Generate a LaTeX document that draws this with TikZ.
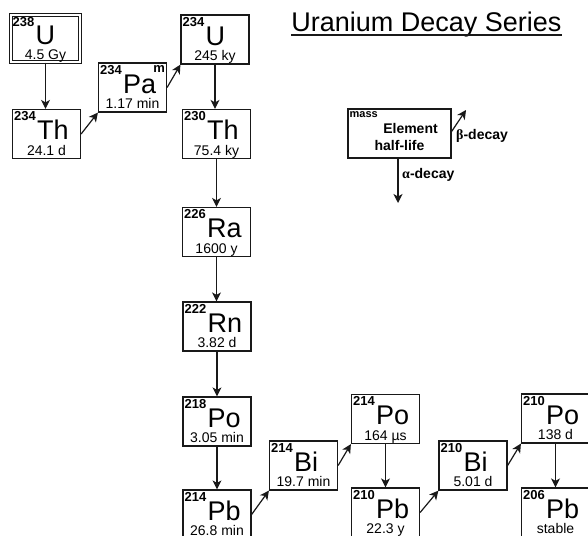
\documentclass[tikz,border=0pt]{standalone}
\usepackage{fontspec}
\setmainfont{Liberation Sans}
\newfontfamily\greekfont{Liberation Serif}
\usetikzlibrary{arrows.meta}
\definecolor{figline}{RGB}{25,25,25}
\tikzset{
  nuc/.style    ={draw=figline, line width=1.2pt, minimum width=68pt, minimum height=49pt, inner sep=0pt},
  massno/.style ={font=\fontsize{13}{13}\selectfont\bfseries, inner sep=0.5pt, anchor=north west, xshift=1.5pt, yshift=-2pt},
  elem/.style   ={font=\fontsize{27}{27}\selectfont, inner sep=0.5pt, anchor=base west, yshift=-19pt},
  hlife/.style  ={font=\fontsize{14}{15}\selectfont, inner sep=0pt, anchor=base, yshift=4pt},
  keytxt/.style ={font=\fontsize{14}{14}\selectfont\bfseries, inner sep=0pt},
  adecay/.style ={draw=figline, line width=1.2pt, -{Stealth[length=9pt,width=9pt,inset=2.5pt]}},
  bdecay/.style ={draw=figline, line width=1.2pt, -{Stealth[length=9pt,width=9pt,inset=2.5pt]}},
}

\begin{document}
\begin{tikzpicture}[x=1pt,y=-1pt]
  \useasboundingbox (0,0) rectangle (588,535);
  \clip (0,0) rectangle (588,535);
  % title
  \node[anchor=base, inner sep=0pt, font=\fontsize{27}{29}\selectfont] (title) at (426.5,32) {Uranium Decay Series};
  \draw[figline, line width=1.2pt] ([yshift=-3pt]title.base west) -- ([yshift=-3pt]title.base east);
  % top chain
  \node[nuc, double, double distance=1.5pt, minimum width=69pt, minimum height=47pt] (u238) at (45.5,38.5) {};
  \node[massno] (u238m) at (u238.north west) {238};
  \node[elem, yshift=1pt] (u238e) at (u238m.base east) {U};
  \node[hlife, yshift=-0.5pt] (u238h) at (u238.south) {4.5 Gy};
  \node[nuc] (th234) at (46.5,134) {};
  \node[massno] (th234m) at (th234.north west) {234};
  \node[elem] (th234e) at (th234m.base east) {Th};
  \node[hlife] (th234h) at (th234.south) {24.1 d};
  \node[nuc] (pa234) at (132.5,87.5) {};
  \node[massno] (pa234m) at (pa234.north west) {234};
  \node[elem] (pa234e) at (pa234m.base east) {Pa};
  \node[massno, anchor=north east, xshift=-3pt] (pa234x) at (pa234.north east) {m};
  \node[hlife] (pa234h) at (pa234.south) {1.17 min};
  \node[nuc] (u234) at (215,39.5) {};
  \node[massno] (u234m) at (u234.north west) {234};
  \node[elem] (u234e) at (u234m.base east) {U};
  \node[hlife] (u234h) at (u234.south) {245 ky};
  % middle column
  \node[nuc] (th230) at (216.5,134) {};
  \node[massno] (th230m) at (th230.north west) {230};
  \node[elem] (th230e) at (th230m.base east) {Th};
  \node[hlife] (th230h) at (th230.south) {75.4 ky};
  \node[nuc] (ra226) at (216.5,232) {};
  \node[massno] (ra226m) at (ra226.north west) {226};
  \node[elem] (ra226e) at (ra226m.base east) {Ra};
  \node[hlife] (ra226h) at (ra226.south) {1600 y};
  \node[nuc] (rn222) at (217,326.5) {};
  \node[massno] (rn222m) at (rn222.north west) {222};
  \node[elem] (rn222e) at (rn222m.base east) {Rn};
  \node[hlife] (rn222h) at (rn222.south) {3.82 d};
  \node[nuc] (po218) at (217,421.5) {};
  \node[massno] (po218m) at (po218.north west) {218};
  \node[elem] (po218e) at (po218m.base east) {Po};
  \node[hlife] (po218h) at (po218.south) {3.05 min};
  % bottom chain
  \node[nuc] (pb214) at (217,514.5) {};
  \node[massno] (pb214m) at (pb214.north west) {214};
  \node[elem] (pb214e) at (pb214m.base east) {Pb};
  \node[hlife] (pb214h) at (pb214.south) {26.8 min};
  \node[nuc] (bi214) at (303.5,465.5) {};
  \node[massno] (bi214m) at (bi214.north west) {214};
  \node[elem] (bi214e) at (bi214m.base east) {Bi};
  \node[hlife] (bi214h) at (bi214.south) {19.7 min};
  \node[nuc] (po214) at (385.5,419) {};
  \node[massno] (po214m) at (po214.north west) {214};
  \node[elem] (po214e) at (po214m.base east) {Po};
  \node[hlife] (po214h) at (po214.south) {164 µs};
  \node[nuc] (pb210) at (385.5,512.5) {};
  \node[massno] (pb210m) at (pb210.north west) {210};
  \node[elem] (pb210e) at (pb210m.base east) {Pb};
  \node[hlife] (pb210h) at (pb210.south) {22.3 y};
  \node[nuc] (bi210) at (473,465.5) {};
  \node[massno] (bi210m) at (bi210.north west) {210};
  \node[elem] (bi210e) at (bi210m.base east) {Bi};
  \node[hlife] (bi210h) at (bi210.south) {5.01 d};
  \node[nuc] (po210) at (555.5,418.5) {};
  \node[massno] (po210m) at (po210.north west) {210};
  \node[elem] (po210e) at (po210m.base east) {Po};
  \node[hlife] (po210h) at (po210.south) {138 d};
  \node[nuc] (pb206) at (555.5,512.5) {};
  \node[massno] (pb206m) at (pb206.north west) {206};
  \node[elem] (pb206e) at (pb206m.base east) {Pb};
  \node[hlife] (pb206h) at (pb206.south) {stable};
  % alpha decays
  \draw[adecay] (u238.south) -- (u238.south |- th234.north);
  \draw[adecay] (u234.south) -- (u234.south |- th230.north);
  \draw[adecay] (th230.south) -- (ra226.north);
  \draw[adecay] (ra226.south) -- (ra226.south |- rn222.north);
  \draw[adecay] (rn222.south) -- (po218.north);
  \draw[adecay] (po218.south) -- (pb214.north);
  \draw[adecay] (po214.south) -- (pb210.north);
  \draw[adecay] (po210.south) -- (pb206.north);
  % beta decays
  \draw[bdecay] (th234.east) -- (pa234.south west);
  \draw[bdecay] (pa234.east) -- (u234.south west);
  \draw[bdecay] (pb214.east) -- (bi214.south west);
  \draw[bdecay] (bi214.east) -- (po214.south west);
  \draw[bdecay] (pb210.east) -- (bi210.south west);
  \draw[bdecay] (bi210.east) -- (po210.south west);
  % key
  \node[nuc, minimum width=103pt] (key) at (399.5,133.5) {};
  \node[keytxt, font=\fontsize{11}{11}\selectfont\bfseries, anchor=north west, xshift=2pt, yshift=-3pt] (keym) at (key.north west) {mass};
  \node[keytxt, xshift=11pt, yshift=5.5pt] (keye) at (key.center) {Element};
  \node[keytxt, anchor=base, yshift=8pt] (keyh) at (key.south) {half-life};
  \coordinate (keyb) at (466,110);
  \coordinate (keya) at (398,203);
  \draw[bdecay] ([yshift=2pt]key.east) -- (keyb);
  \draw[adecay] (key.south -| keya) -- (keya);
  \node[keytxt, anchor=west] (keybl) at (456,136) {{\greekfont β}-decay};
  \node[keytxt, anchor=west] (keyal) at (402,175) {{\greekfont α}-decay};
\end{tikzpicture}
\end{document}
